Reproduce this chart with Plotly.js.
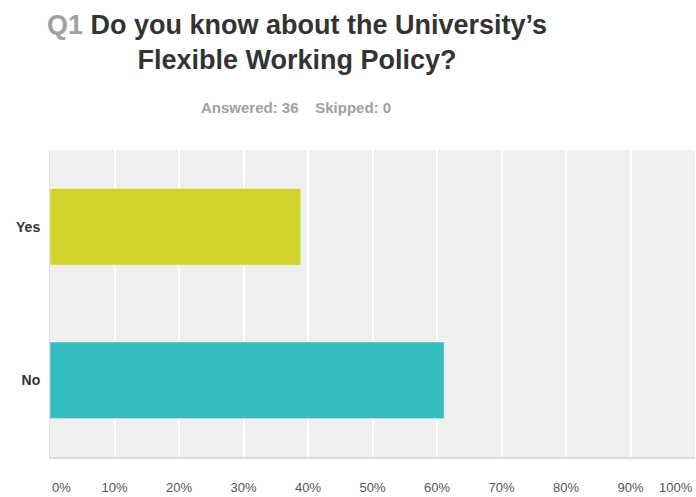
<!DOCTYPE html>
<html>
<head>
<meta charset="utf-8">
<script src="https://cdn.plot.ly/plotly-3.0.1.min.js"></script>
<style>html,body{margin:0;padding:0;background:#fff;}#chart{width:696px;height:497px;}</style>
</head>
<body>
<div id="chart"></div>
<script>
const categories = ["Yes", "No"];
const percentValues = [38.89, 61.11];
const barColors = ["#D0D32A", "#33BDBF"];
const tickValues = [0, 10, 20, 30, 40, 50, 60, 70, 80, 90, 100];
const tickLabels = ["0%", "10%", "20%", "30%", "40%", "50%", "60%", "70%", "80%", "90%", "100%"];
const questionLabel = "Q1";
const questionText = "Do you know about the University’s<br>Flexible Working Policy?";
const answered = 36;
const skipped = 0;

const font = "'Liberation Sans', Arial, sans-serif";

// inner tick labels (10%..90%) drawn by the axis; 0% and 100% anchored at the ends
const innerTickText = tickLabels.map((t, i) => (i === 0 || i === tickLabels.length - 1) ? "" : t);

const trace = {
  type: "bar",
  orientation: "h",
  y: categories,
  x: percentValues,
  width: 0.5,
  marker: {color: barColors, line: {color: "rgba(255,255,255,0.5)", width: 1}},
  hoverinfo: "skip"
};

const plotTop = 150, plotH = 307, plotL = 50, plotW = 645;
const labelY = -(487 - (plotTop + plotH)) / plotH;

const layout = {
  width: 696,
  height: 497,
  margin: {l: plotL, r: 1, t: plotTop, b: 40},
  paper_bgcolor: "#ffffff",
  plot_bgcolor: "#efefef",
  showlegend: false,
  bargap: 0.5,
  xaxis: {
    range: [0, 100],
    tickvals: tickValues,
    ticktext: innerTickText,
    ticks: "",
    ticklabelstandoff: 17,
    tickfont: {family: font, size: 13, color: "#555555"},
    showgrid: true,
    gridcolor: "#ffffff",
    gridwidth: 2,
    zeroline: false,
    showline: true,
    linecolor: "#dcdcdc",
    linewidth: 2,
    fixedrange: true
  },
  yaxis: {
    autorange: "reversed",
    ticks: "",
    ticklabelstandoff: 6,
    tickfont: {family: font, size: 14, color: "#333333", weight: "bold"},
    showgrid: false,
    zeroline: false,
    showline: true,
    linecolor: "#e0e0e0",
    linewidth: 1,
    fixedrange: true
  },
  annotations: [
    {
      text: '<span style="color:#a0a0a0">' + questionLabel + '</span> ' + questionText,
      xref: "paper", yref: "paper",
      x: (297 - plotL) / plotW, y: 1 + (plotTop - 42) / plotH,
      xanchor: "center", yanchor: "middle", align: "center",
      showarrow: false,
      font: {family: font, size: 27, color: "#333333", weight: "bold"}
    },
    {
      text: "Answered: " + answered + "&nbsp;&nbsp;&nbsp;&nbsp;Skipped: " + skipped,
      xref: "paper", yref: "paper",
      x: (296 - plotL) / plotW, y: 1 + (plotTop - 108) / plotH,
      xanchor: "center", yanchor: "middle",
      showarrow: false,
      font: {family: font, size: 15, color: "#a0a0a0", weight: "bold"}
    },
    {
      text: tickLabels[0],
      xref: "x", x: tickValues[0], xanchor: "left",
      yref: "paper", y: labelY, yanchor: "middle",
      showarrow: false,
      font: {family: font, size: 13, color: "#555555"}
    },
    {
      text: tickLabels[tickLabels.length - 1],
      xref: "x", x: tickValues[tickValues.length - 1], xanchor: "right",
      yref: "paper", y: labelY, yanchor: "middle",
      showarrow: false,
      font: {family: font, size: 13, color: "#555555"}
    }
  ]
};

Plotly.newPlot("chart", [trace], layout, {displayModeBar: false, staticPlot: true});
</script>
</body>
</html>
